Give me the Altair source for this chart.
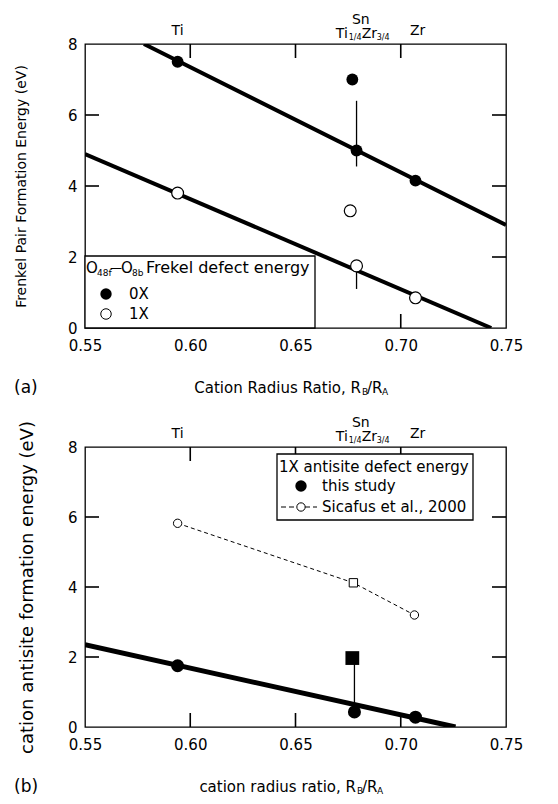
import altair as alt
import pandas as pd

FONT = "DejaVu Sans"
W = 421
HA = 284
HB = 280
TICK_PX = 14
TICK_W = 1.6

# ---------------- data ----------------
# panel (a)
a_0x_x = [0.594, 0.677, 0.679, 0.707]
a_0x_y = [7.5, 7.0, 5.0, 4.15]
a_1x_x = [0.594, 0.676, 0.679, 0.707]
a_1x_y = [3.8, 3.3, 1.75, 0.85]
a_fit0_x = [0.578, 0.75]
a_fit0_y = [8.0, 2.9]
a_fit1_x = [0.55, 0.743]
a_fit1_y = [4.9, 0.0]
a_err_x = [0.679, 0.679]
a_err_lo = [4.55, 1.1]
a_err_hi = [6.4, 1.75]

# panel (b)
b_this_x = [0.594, 0.678, 0.707]
b_this_y = [1.75, 0.43, 0.28]
b_sq_x = [0.677]
b_sq_y = [1.97]
b_sic_x = [0.594, 0.6775, 0.7065]
b_sic_y = [5.82, 4.12, 3.2]
b_sic_shape = ["circle", "square", "circle"]
b_fit_x = [0.55, 0.726]
b_fit_y = [2.35, 0.0]
b_err_x = [0.678]
b_err_lo = [0.45]
b_err_hi = [1.97]

x_ticks = [0.60, 0.65, 0.70]
y_ticks = [2, 4, 6]
x_domain = [0.55, 0.75]
y_domain = [0, 8]
top_labels_x = [0.594, 0.708]
top_labels = ["Ti", "Zr"]
mixed_x = 0.681

XS = alt.Scale(domain=x_domain, nice=False, zero=False)
YS = alt.Scale(domain=y_domain, nice=False)


def ax_x():
    return alt.Axis(values=[0.55, 0.60, 0.65, 0.70, 0.75], format=".2f", title=None,
                    labelFlush=False, labelPadding=10, ticks=False, domain=False, grid=False,
                    labelFont=FONT, labelFontSize=15, labelColor="black")


def ax_y(title, tsize, tpad):
    return alt.Axis(values=[0, 2, 4, 6, 8], format="d", title=title, titleFont=FONT,
                    titleFontSize=tsize, titleFontWeight="normal", titleColor="black",
                    titlePadding=tpad, labelFlush=False, labelPadding=8, ticks=False,
                    domain=False, grid=False, labelFont=FONT, labelFontSize=15,
                    labelColor="black")


def one():
    return alt.Chart(pd.DataFrame({"a": [0]}))


def txt(text, x, y, size, xdata=None, dx=0, align="left"):
    if xdata is not None:
        c = alt.Chart(pd.DataFrame({"x": [xdata]}))
        xenc = alt.X("x:Q", scale=XS)
    else:
        c = one()
        xenc = alt.value(x)
    return c.mark_text(text=text, font=FONT, fontSize=size, align=align,
                       baseline="middle", color="black", dx=dx).encode(x=xenc, y=alt.value(y))


def tick_layer(H, ay):
    # inward frame ticks drawn as thin filled rectangles, in data units
    ly = TICK_PX / H * (y_domain[1] - y_domain[0])
    lx = TICK_PX / W * (x_domain[1] - x_domain[0])
    hwx = TICK_W / 2 / W * (x_domain[1] - x_domain[0])
    hwy = TICK_W / 2 / H * (y_domain[1] - y_domain[0])
    rows = []
    for xv in x_ticks:
        rows.append({"x": xv - hwx, "x2": xv + hwx, "y": y_domain[1] - ly, "y2": y_domain[1]})
        rows.append({"x": xv - hwx, "x2": xv + hwx, "y": y_domain[0], "y2": y_domain[0] + ly})
    for yv in y_ticks:
        rows.append({"x": x_domain[0], "x2": x_domain[0] + lx, "y": yv - hwy, "y2": yv + hwy})
        rows.append({"x": x_domain[1] - lx, "x2": x_domain[1], "y": yv - hwy, "y2": yv + hwy})
    df = pd.DataFrame(rows)
    return alt.Chart(df).mark_rect(color="black", opacity=1).encode(
        x=alt.X("x:Q", scale=XS, axis=ax_x()), x2="x2:Q",
        y=alt.Y("y:Q", scale=YS, axis=ay), y2="y2:Q")


def top_labels_layers():
    L = []
    for xv, t in zip(top_labels_x, top_labels):
        L.append(txt(t, None, -13, 14, xdata=xv, align="center"))
    L.append(txt("Sn", None, -24, 14, xdata=mixed_x, align="center"))
    L.append(txt("Ti", None, -10, 14, xdata=mixed_x, dx=-25))
    L.append(txt("1/4", None, -6, 8, xdata=mixed_x, dx=-12))
    L.append(txt("Zr", None, -10, 14, xdata=mixed_x, dx=1))
    L.append(txt("3/4", None, -6, 8, xdata=mixed_x, dx=16))
    return L


# ---------------- panel (a) ----------------
df_a0 = pd.DataFrame({"x": a_0x_x, "y": a_0x_y})
df_a1 = pd.DataFrame({"x": a_1x_x, "y": a_1x_y})
df_aerr = pd.DataFrame({"x": a_err_x, "y": a_err_lo, "y2": a_err_hi})

ya = ax_y("Frenkel Pair Formation Energy (eV)", 14, 39)

a_fit0 = alt.Chart(pd.DataFrame({"x": a_fit0_x, "y": a_fit0_y})).mark_line(
    color="black", strokeWidth=4, clip=True).encode(
    x=alt.X("x:Q", scale=XS, axis=ax_x()), y=alt.Y("y:Q", scale=YS, axis=ya))
a_fit1 = alt.Chart(pd.DataFrame({"x": a_fit1_x, "y": a_fit1_y})).mark_line(
    color="black", strokeWidth=4, clip=True).encode(
    x=alt.X("x:Q", scale=XS, axis=ax_x()), y=alt.Y("y:Q", scale=YS, axis=ya))
a_err = alt.Chart(df_aerr).mark_rule(color="black", strokeWidth=1.3).encode(
    x=alt.X("x:Q", scale=XS, axis=ax_x()), y=alt.Y("y:Q", scale=YS, axis=ya), y2="y2:Q")
a_p0 = alt.Chart(df_a0).mark_point(shape="circle", filled=True, color="black", size=140,
                                   opacity=1).encode(
    x=alt.X("x:Q", scale=XS, axis=ax_x()), y=alt.Y("y:Q", scale=YS, axis=ya))
a_p1 = alt.Chart(df_a1).mark_point(shape="circle", filled=True, fill="white", stroke="black",
                                   strokeWidth=1.2, size=140, opacity=1).encode(
    x=alt.X("x:Q", scale=XS, axis=ax_x()), y=alt.Y("y:Q", scale=YS, axis=ya))

# legend (a)
leg_a = [
    one().mark_rect(fill="white", stroke="black", strokeWidth=1.3).encode(
        x=alt.value(0), x2=alt.value(230), y=alt.value(212), y2=alt.value(HA)),
    txt("O", 1, 224, 15),
    txt("48f", 12, 229, 9),
    txt("—", 25, 224, 12),
    txt("O", 36, 224, 15),
    txt("8b", 47, 229, 9),
    txt("Frekel defect energy", 61, 224, 16),
    one().mark_point(shape="circle", filled=True, color="black", size=130, opacity=1).encode(
        x=alt.value(21), y=alt.value(250)),
    one().mark_point(shape="circle", filled=True, fill="white", stroke="black", strokeWidth=1,
                     size=110, opacity=1).encode(x=alt.value(21), y=alt.value(270)),
    txt("0X", 44, 250, 15),
    txt("1X", 44, 270, 15),
]

xt_a = [
    txt("Cation Radius Ratio, R", 276, 344, 15, align="right"),
    txt("B", 277, 348, 9),
    txt("/R", 282, 344, 15),
    txt("A", 297, 348, 9),
    txt("(a)", -71, 344, 17),
]

panel_a = alt.layer(
    tick_layer(HA, ya), a_fit0, a_fit1, a_err, a_p0, a_p1, *leg_a,
    *top_labels_layers(), *xt_a
).properties(width=W, height=HA)

# ---------------- panel (b) ----------------
yb = ax_y("cation antisite formation energy (eV)", 18, 31)
df_bt = pd.DataFrame({"x": b_this_x, "y": b_this_y})
df_bsq = pd.DataFrame({"x": b_sq_x, "y": b_sq_y})
df_bs = pd.DataFrame({"x": b_sic_x, "y": b_sic_y, "shape": b_sic_shape})
df_berr = pd.DataFrame({"x": b_err_x, "y": b_err_lo, "y2": b_err_hi})

b_fit = alt.Chart(pd.DataFrame({"x": b_fit_x, "y": b_fit_y})).mark_line(
    color="black", strokeWidth=5, clip=True).encode(
    x=alt.X("x:Q", scale=XS, axis=ax_x()), y=alt.Y("y:Q", scale=YS, axis=yb))
b_sic_line = alt.Chart(df_bs).mark_line(color="black", strokeWidth=1, strokeDash=[4, 3]).encode(
    x=alt.X("x:Q", scale=XS, axis=ax_x()), y=alt.Y("y:Q", scale=YS, axis=yb))
b_sic_pts = alt.Chart(df_bs).mark_point(filled=True, fill="white", stroke="black",
                                        strokeWidth=1, size=70, opacity=1).encode(
    x=alt.X("x:Q", scale=XS, axis=ax_x()), y=alt.Y("y:Q", scale=YS, axis=yb),
    shape=alt.Shape("shape:N", scale=alt.Scale(domain=["circle", "square"],
                                               range=["circle", "square"]), legend=None))
b_err = alt.Chart(df_berr).mark_rule(color="black", strokeWidth=1.3).encode(
    x=alt.X("x:Q", scale=XS, axis=ax_x()), y=alt.Y("y:Q", scale=YS, axis=yb), y2="y2:Q")
b_pts = alt.Chart(df_bt).mark_point(shape="circle", filled=True, color="black", size=170,
                                    opacity=1).encode(
    x=alt.X("x:Q", scale=XS, axis=ax_x()), y=alt.Y("y:Q", scale=YS, axis=yb))
b_sq = alt.Chart(df_bsq).mark_point(shape="square", filled=True, color="black", size=190,
                                    opacity=1).encode(
    x=alt.X("x:Q", scale=XS, axis=ax_x()), y=alt.Y("y:Q", scale=YS, axis=yb))

leg_b = [
    one().mark_rect(fill="white", stroke="black", strokeWidth=1.3).encode(
        x=alt.value(192), x2=alt.value(388), y=alt.value(7), y2=alt.value(73)),
    txt("1X antisite defect energy", 194, 20, 15),
    one().mark_point(shape="circle", filled=True, color="black", size=130, opacity=1).encode(
        x=alt.value(216), y=alt.value(39)),
    txt("this study", 237, 39, 15),
    one().mark_rule(color="black", strokeWidth=1, strokeDash=[5, 3]).encode(
        x=alt.value(196), x2=alt.value(232), y=alt.value(60)),
    one().mark_point(shape="circle", filled=True, fill="white", stroke="black", strokeWidth=1,
                     size=70, opacity=1).encode(x=alt.value(216), y=alt.value(60)),
    txt("Sicafus et al., 2000", 237, 60, 15),
]

xt_b = [
    txt("cation radius ratio, R", 271, 340, 15, align="right"),
    txt("B", 272, 344, 9),
    txt("/R", 277, 340, 15),
    txt("A", 292, 344, 9),
    txt("(b)", -71, 340, 17),
]

panel_b = alt.layer(
    tick_layer(HB, yb), b_fit, b_sic_line, b_sic_pts, b_err, b_pts, b_sq, *leg_b,
    *top_labels_layers(), *xt_b
).properties(width=W, height=HB)

chart = alt.vconcat(panel_a, panel_b, spacing=17).configure_view(
    stroke="black", strokeWidth=1.3).properties(padding={"left": 5, "top": 4, "right": 5, "bottom": 5})

chart.save("out.html", embed_options={"renderer": "svg", "actions": False})
